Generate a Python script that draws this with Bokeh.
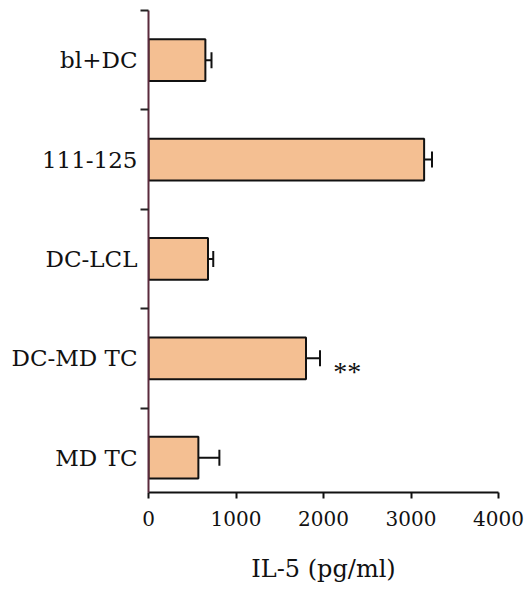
from bokeh.plotting import figure
from bokeh.models import ColumnDataSource, FixedTicker, Whisker, TeeHead, Range1d
from bokeh.core.properties import value
from bokeh.embed import file_html
from bokeh.resources import INLINE

categories = ["bl+DC", "111-125", "DC-LCL", "DC-MD TC", "MD TC"]
il5_values = [650, 3150, 680, 1800, 570]
il5_errors = [70, 90, 60, 160, 240]
significance = ["", "", "", "**", ""]
x_ticks = [0, 1000, 2000, 3000, 4000]
x_label = "IL-5 (pg/ml)"

n = len(categories)
ypos = [n - 1 - i for i in range(n)]
src = ColumnDataSource(dict(
    y=ypos,
    v=il5_values,
    lo=[v - e for v, e in zip(il5_values, il5_errors)],
    hi=[v + e for v, e in zip(il5_values, il5_errors)],
))

FONT = "DejaVu Serif"

p = figure(width=528, height=590, output_backend="svg", toolbar_location=None,
           x_range=Range1d(0, 4000), y_range=Range1d(-0.35, n - 0.5),
           min_border_left=148, min_border_right=30, min_border_top=10, min_border_bottom=98)
p.outline_line_color = None
p.xgrid.visible = False
p.ygrid.visible = False
p.background_fill_color = "white"

p.hbar(y="y", right="v", left=0, height=0.42, source=src,
       fill_color="#F4BF92", line_color="#111111", line_width=2)

w = Whisker(base="y", lower="lo", upper="hi", dimension="width", source=src,
            line_color="#111111", line_width=2)
w.lower_head = TeeHead(size=16, line_color="#111111", line_width=2)
w.upper_head = TeeHead(size=16, line_color="#111111", line_width=2)
p.add_layout(w)

sig_x, sig_y, sig_t = [], [], []
for yy, v, e, s in zip(ypos, il5_values, il5_errors, significance):
    if s:
        sig_x.append(v + e + 150)
        sig_y.append(yy - 0.13)
        sig_t.append(s)
p.text(x=sig_x, y=sig_y, text=sig_t, text_font=value("Liberation Serif"), text_font_size="28px",
       text_baseline="middle", text_align="left", text_color="#111111")

# x axis
xa = p.xaxis[0]
xa.ticker = FixedTicker(ticks=x_ticks)
xa.axis_line_color = "#111111"
xa.axis_line_width = 2
xa.major_tick_line_color = "#111111"
xa.major_tick_line_width = 2
xa.major_tick_out = 6
xa.major_tick_in = 0
xa.minor_tick_line_color = None
xa.major_label_text_font = FONT
xa.major_label_text_font_size = "20px"
xa.major_label_text_color = "#111111"
xa.major_label_standoff = 12
xa.axis_label = x_label
xa.axis_label_text_font = FONT
xa.axis_label_text_font_style = "normal"
xa.axis_label_text_font_size = "24px"
xa.axis_label_text_color = "#111111"
xa.axis_label_standoff = 26

# y axis
ya = p.yaxis[0]
ya.ticker = FixedTicker(ticks=ypos, minor_ticks=[k + 0.5 for k in range(n)])
ya.major_label_overrides = {yy: c for yy, c in zip(ypos, categories)}
ya.axis_line_color = "#5A2A3C"
ya.axis_line_width = 2
ya.major_tick_out = 0
ya.major_tick_in = 0
ya.major_tick_line_color = None
ya.minor_tick_line_color = "#222222"
ya.minor_tick_line_width = 2
ya.minor_tick_out = 8
ya.minor_tick_in = 0
ya.major_label_text_font = FONT
ya.major_label_text_font_size = "23px"
ya.major_label_text_color = "#111111"
ya.major_label_standoff = 3

open("out.html", "w").write(file_html(p, INLINE))
